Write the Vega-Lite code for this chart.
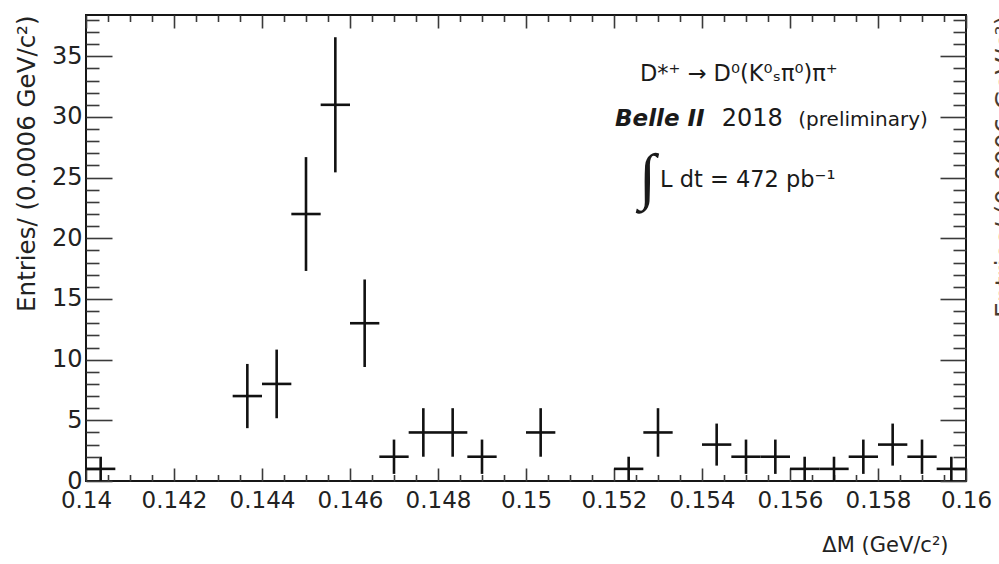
{
  "$schema": "https://vega.github.io/schema/vega-lite/v6.json",
  "width": 880,
  "height": 466,
  "autosize": {"type": "none"},
  "padding": {"left": 86, "top": 15, "right": 33, "bottom": 83},
  "background": "white",
  "config": {
    "view": {"stroke": "#161616", "strokeWidth": 2},
    "axis": {
      "labelFont": "DejaVu Sans",
      "titleFont": "DejaVu Sans",
      "labelColor": "#222222",
      "titleColor": "#222222",
      "titleFontWeight": "normal",
      "tickColor": "#3a3a3a",
      "tickWidth": 1.6,
      "domain": false,
      "grid": false,
      "labelFlush": false,
      "labelOverlap": false
    },
    "text": {"font": "DejaVu Sans", "color": "#1a1a1a", "align": "left", "baseline": "alphabetic"}
  },
  "datasets": {
    "bins": [
      {"dm": 0.1403333, "lo": 0.1400000, "hi": 0.1406667, "n": 1, "elo": 0.0, "ehi": 2.0},
      {"dm": 0.1436667, "lo": 0.1433333, "hi": 0.1440000, "n": 7, "elo": 4.354, "ehi": 9.646},
      {"dm": 0.1443333, "lo": 0.1440000, "hi": 0.1446667, "n": 8, "elo": 5.172, "ehi": 10.828},
      {"dm": 0.1450000, "lo": 0.1446667, "hi": 0.1453333, "n": 22, "elo": 17.310, "ehi": 26.690},
      {"dm": 0.1456667, "lo": 0.1453333, "hi": 0.1460000, "n": 31, "elo": 25.432, "ehi": 36.568},
      {"dm": 0.1463333, "lo": 0.1460000, "hi": 0.1466667, "n": 13, "elo": 9.394, "ehi": 16.606},
      {"dm": 0.1470000, "lo": 0.1466667, "hi": 0.1473333, "n": 2, "elo": 0.586, "ehi": 3.414},
      {"dm": 0.1476667, "lo": 0.1473333, "hi": 0.1480000, "n": 4, "elo": 2.0, "ehi": 6.0},
      {"dm": 0.1483333, "lo": 0.1480000, "hi": 0.1486667, "n": 4, "elo": 2.0, "ehi": 6.0},
      {"dm": 0.1490000, "lo": 0.1486667, "hi": 0.1493333, "n": 2, "elo": 0.586, "ehi": 3.414},
      {"dm": 0.1503333, "lo": 0.1500000, "hi": 0.1506667, "n": 4, "elo": 2.0, "ehi": 6.0},
      {"dm": 0.1523333, "lo": 0.1520000, "hi": 0.1526667, "n": 1, "elo": 0.0, "ehi": 2.0},
      {"dm": 0.1530000, "lo": 0.1526667, "hi": 0.1533333, "n": 4, "elo": 2.0, "ehi": 6.0},
      {"dm": 0.1543333, "lo": 0.1540000, "hi": 0.1546667, "n": 3, "elo": 1.268, "ehi": 4.732},
      {"dm": 0.1550000, "lo": 0.1546667, "hi": 0.1553333, "n": 2, "elo": 0.586, "ehi": 3.414},
      {"dm": 0.1556667, "lo": 0.1553333, "hi": 0.1560000, "n": 2, "elo": 0.586, "ehi": 3.414},
      {"dm": 0.1563333, "lo": 0.1560000, "hi": 0.1566667, "n": 1, "elo": 0.0, "ehi": 2.0},
      {"dm": 0.1570000, "lo": 0.1566667, "hi": 0.1573333, "n": 1, "elo": 0.0, "ehi": 2.0},
      {"dm": 0.1576667, "lo": 0.1573333, "hi": 0.1580000, "n": 2, "elo": 0.586, "ehi": 3.414},
      {"dm": 0.1583333, "lo": 0.1580000, "hi": 0.1586667, "n": 3, "elo": 1.268, "ehi": 4.732},
      {"dm": 0.1590000, "lo": 0.1586667, "hi": 0.1593333, "n": 2, "elo": 0.586, "ehi": 3.414},
      {"dm": 0.1596667, "lo": 0.1593333, "hi": 0.1600000, "n": 1, "elo": 0.0, "ehi": 2.0}
    ]
  },
  "layer": [
    {
      "data": {"name": "bins"},
      "mark": {"type": "rule", "color": "#111111", "strokeWidth": 2.6},
      "encoding": {
        "x": {
          "field": "dm", "type": "quantitative",
          "scale": {"domain": [0.14, 0.16], "nice": false, "zero": false},
          "axis": {
            "orient": "bottom",
            "values": [0.14, 0.142, 0.144, 0.146, 0.148, 0.15, 0.152, 0.154, 0.156, 0.158, 0.16],
            "format": ".3~f",
            "tickSize": -13,
            "labelFontSize": 23,
            "labelPadding": 21,
            "title": "ΔM (GeV/c²)",
            "titleFontSize": 21,
            "titleAlign": "right",
            "titleX": 862,
            "titlePadding": 22
          }
        },
        "y": {
          "field": "elo", "type": "quantitative",
          "scale": {"domain": [0, 38.4], "nice": false, "zero": true},
          "axis": {
            "orient": "left",
            "values": [0, 5, 10, 15, 20, 25, 30, 35],
            "tickSize": -26,
            "labelFontSize": 24,
            "labelPadding": 30,
            "title": "Entries/ (0.0006 GeV/c²)",
            "titleFontSize": 24.5,
            "titleAnchor": "end",
            "titlePadding": 12
          }
        },
        "y2": {"field": "ehi"}
      }
    },
    {
      "data": {"name": "bins"},
      "mark": {"type": "rule", "color": "#111111", "strokeWidth": 2.6},
      "encoding": {
        "x": {
          "field": "lo", "type": "quantitative",
          "axis": {
            "orient": "bottom",
            "values": [0.1405, 0.141, 0.1415, 0.1425, 0.143, 0.1435, 0.1445, 0.145, 0.1455, 0.1465, 0.147, 0.1475, 0.1485, 0.149, 0.1495, 0.1505, 0.151, 0.1515, 0.1525, 0.153, 0.1535, 0.1545, 0.155, 0.1555, 0.1565, 0.157, 0.1575, 0.1585, 0.159, 0.1595],
            "tickSize": -6.5,
            "labels": false,
            "title": null
          }
        },
        "x2": {"field": "hi"},
        "y": {
          "field": "n", "type": "quantitative",
          "axis": {
            "orient": "left",
            "values": [1, 2, 3, 4, 6, 7, 8, 9, 11, 12, 13, 14, 16, 17, 18, 19, 21, 22, 23, 24, 26, 27, 28, 29, 31, 32, 33, 34, 36, 37, 38],
            "tickSize": -13,
            "labels": false,
            "title": null
          }
        }
      }
    },
    {
      "data": {"values": [{"x": 0.152591, "y": 32.95, "label": "D*⁺ → D⁰(K⁰ₛπ⁰)π⁺"}]},
      "mark": {"type": "text", "fontSize": 22.5},
      "encoding": {
        "x": {
          "field": "x", "type": "quantitative",
          "axis": {
            "orient": "top",
            "values": [0.14, 0.142, 0.144, 0.146, 0.148, 0.15, 0.152, 0.154, 0.156, 0.158, 0.16],
            "tickSize": -13,
            "labels": false,
            "title": null
          }
        },
        "y": {
          "field": "y", "type": "quantitative",
          "axis": {
            "orient": "right",
            "values": [0, 5, 10, 15, 20, 25, 30, 35],
            "tickSize": -26,
            "labels": false,
            "title": "Entries/ (0.0006 GeV/c²)",
            "titleFontSize": 25,
            "titleColor": "#4a3c30",
            "titleAngle": 270,
            "titleBaseline": "top",
            "titleAnchor": "end",
            "titlePadding": 26
          }
        },
        "text": {"field": "label"}
      }
    },
    {
      "data": {"values": [{"x": 0.152023, "y": 29.25, "label": "Belle II"}]},
      "mark": {"type": "text", "fontSize": 23, "fontWeight": "bold", "fontStyle": "italic"},
      "encoding": {
        "x": {
          "field": "x", "type": "quantitative",
          "axis": {
            "orient": "top",
            "values": [0.1405, 0.141, 0.1415, 0.1425, 0.143, 0.1435, 0.1445, 0.145, 0.1455, 0.1465, 0.147, 0.1475, 0.1485, 0.149, 0.1495, 0.1505, 0.151, 0.1515, 0.1525, 0.153, 0.1535, 0.1545, 0.155, 0.1555, 0.1565, 0.157, 0.1575, 0.1585, 0.159, 0.1595],
            "tickSize": -6.5,
            "labels": false,
            "title": null
          }
        },
        "y": {
          "field": "y", "type": "quantitative",
          "axis": {
            "orient": "right",
            "values": [1, 2, 3, 4, 6, 7, 8, 9, 11, 12, 13, 14, 16, 17, 18, 19, 21, 22, 23, 24, 26, 27, 28, 29, 31, 32, 33, 34, 36, 37, 38],
            "tickSize": -13,
            "labels": false,
            "title": null
          }
        },
        "text": {"field": "label"}
      }
    },
    {
      "data": {"values": [{"x": 0.154447, "y": 29.25, "label": "2018"}]},
      "mark": {"type": "text", "fontSize": 24},
      "encoding": {
        "x": {"field": "x", "type": "quantitative", "axis": null},
        "y": {"field": "y", "type": "quantitative", "axis": null},
        "text": {"field": "label"}
      }
    },
    {
      "data": {"values": [{"x": 0.156189, "y": 29.25, "label": "(preliminary)"}]},
      "mark": {"type": "text", "fontSize": 20},
      "encoding": {
        "x": {"field": "x", "type": "quantitative", "axis": null},
        "y": {"field": "y", "type": "quantitative", "axis": null},
        "text": {"field": "label"}
      }
    },
    {
      "data": {"values": [{"x": 0.15257, "y": 23.4, "label": "∫"}]},
      "mark": {"type": "text", "font": "Liberation Serif", "fontSize": 62, "fontWeight": "bold"},
      "encoding": {
        "x": {"field": "x", "type": "quantitative", "axis": null},
        "y": {"field": "y", "type": "quantitative", "axis": null},
        "text": {"field": "label"}
      }
    },
    {
      "data": {"values": [{"x": 0.153045, "y": 24.19, "label": "L dt = 472 pb⁻¹"}]},
      "mark": {"type": "text", "fontSize": 22.5},
      "encoding": {
        "x": {"field": "x", "type": "quantitative", "axis": null},
        "y": {"field": "y", "type": "quantitative", "axis": null},
        "text": {"field": "label"}
      }
    }
  ],
  "resolve": {"axis": {"x": "independent", "y": "independent"}}
}
